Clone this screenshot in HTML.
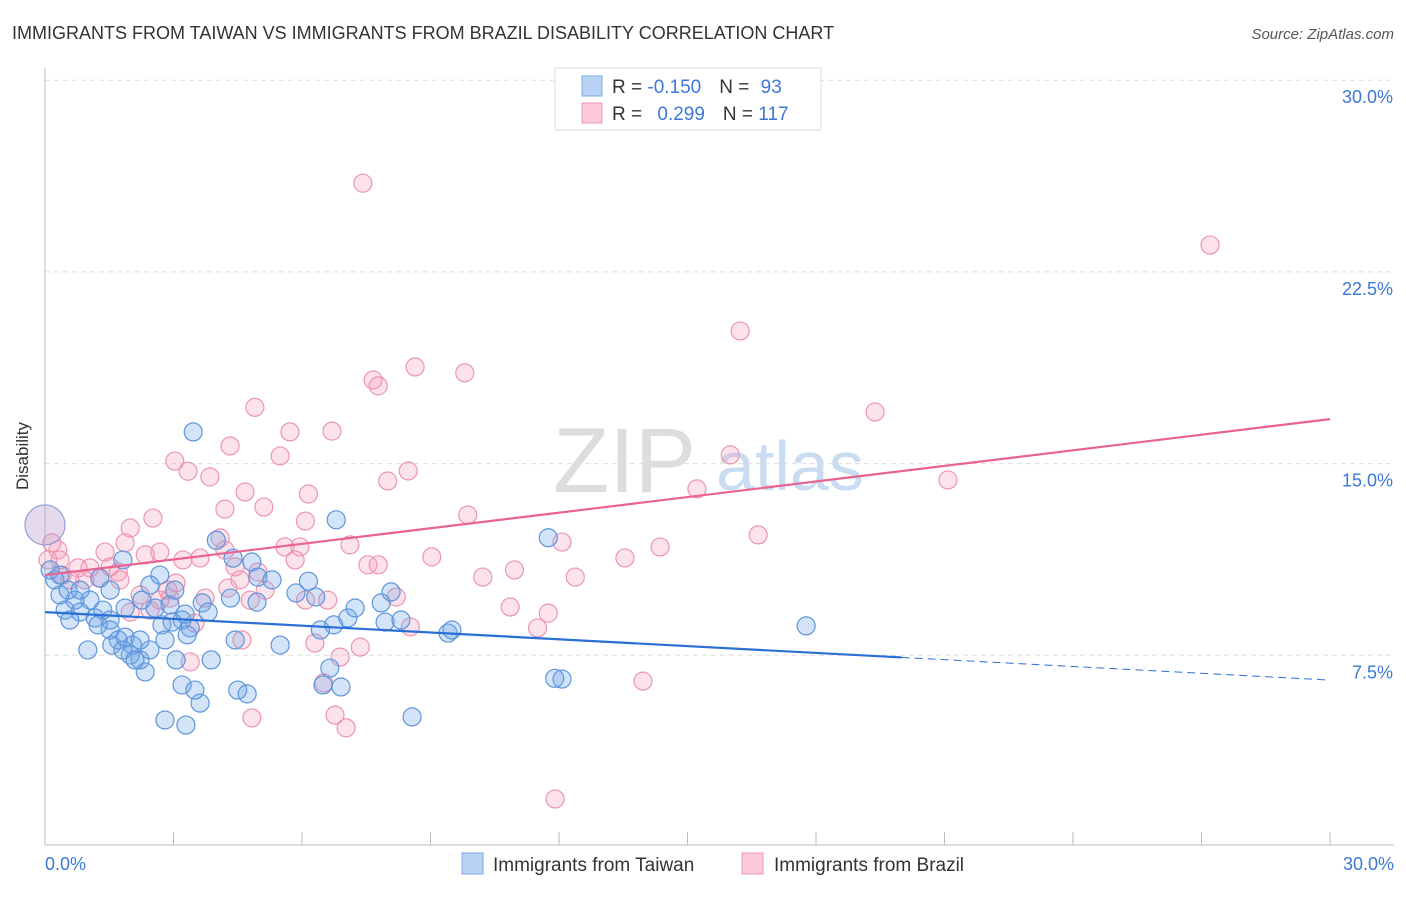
<!DOCTYPE html>
<html><head><meta charset="utf-8"><style>
body{margin:0;background:#fff;font-family:"Liberation Sans",sans-serif;}
svg text{font-family:"Liberation Sans",sans-serif;}
</style></head><body>
<svg id="c" width="1406" height="892">
<text x="12" y="39" font-size="18" fill="#333">IMMIGRANTS FROM TAIWAN VS IMMIGRANTS FROM BRAZIL DISABILITY CORRELATION CHART</text>
<text x="1394" y="39" font-size="15" fill="#555" text-anchor="end" font-style="italic">Source: ZipAtlas.com</text>
<g>
<text x="553" y="492" font-size="92" fill="#ddd" font-family="Liberation Serif">ZIP</text>
<text x="716" y="490" font-size="70" fill="#c9dcf2">atlas</text>
</g>
<g id="grid"></g><g id="axes"></g><g id="pts"></g><g id="lines"></g>
<text x="28" y="456" font-size="17" fill="#333" transform="rotate(-90 28 456)" text-anchor="middle">Disability</text>
<text x="45" y="870" font-size="18" fill="#3b78d8">0.0%</text>
<text x="1394" y="870" font-size="18" fill="#3b78d8" text-anchor="end">30.0%</text>
<g>
<rect x="555" y="68" width="266" height="62" fill="#fff" stroke="#ddd"/>
<rect x="582" y="76" width="20" height="20" fill="#b9d3f5" stroke="#7aa7e4"/>
<rect x="582" y="103" width="20" height="20" fill="#fbc9d8" stroke="#ef9ab6"/>
<text x="612" y="93" font-size="19" fill="#333">R = <tspan fill="#3b78d8">-0.150</tspan><tspan dx="18">N = </tspan><tspan fill="#3b78d8" dx="6">93</tspan></text>
<text x="612" y="120" font-size="19" fill="#333">R = <tspan fill="#3b78d8" dx="10">0.299</tspan><tspan dx="18">N = </tspan><tspan fill="#3b78d8">117</tspan></text>
</g>
<g>
<rect x="462" y="853" width="21" height="21" fill="#b9d3f5" stroke="#7aa7e4"/>
<text x="493" y="871" font-size="19" fill="#333">Immigrants from Taiwan</text>
<rect x="742" y="853" width="21" height="21" fill="#fbc9d8" stroke="#ef9ab6"/>
<text x="774" y="871" font-size="19" fill="#333">Immigrants from Brazil</text>
</g>
</svg>
<script>
const yTicks=[7.5,15,22.5,30];
const yTickLabels=["7.5%","15.0%","22.5%","30.0%"];
const xTicks=[0,3,6,9,12,15,18,21,24,27,30];
const taiwanX=[3.46,6.8,11.75,17.77,12.07,8.57,2.8,3.29,3.62,3.2,3.5,4.5,4.72,3.88,3.06,2.34,2.22,6.49,6.91,6.65,5.49,4.44,4.0,4.39,4.83,4.97,4.33,4.95,3.67,5.86,6.15,6.32,6.74,7.07,6.43,7.85,8.08,7.94,8.31,9.41,9.5,2.57,2.92,3.2,3.39,2.73,3.03,2.68,2.45,1.82,1.28,1.52,1.05,0.7,0.82,1.17,1.35,1.52,1.87,1.52,1.87,1.71,2.04,1.99,1.0,2.1,0.35,0.47,0.23,0.12,0.54,0.82,1.24,1.56,1.82,2.22,0.35,0.58,2.45,2.8,3.32,2.97,3.81,2.26,7.24,5.3,3.27,11.9];
const taiwanY=[16.24,12.8,12.1,8.65,6.57,5.09,4.97,4.77,5.63,6.34,6.14,6.14,5.99,7.32,7.32,6.85,7.32,6.34,6.26,7.0,7.9,8.1,12.0,11.3,11.15,10.56,9.74,9.58,9.55,9.94,10.4,9.78,8.69,8.96,8.49,9.55,9.98,8.8,8.88,8.37,8.49,9.35,9.47,8.88,8.57,8.69,10.05,10.64,10.25,11.23,10.52,10.05,9.66,9.66,9.19,8.96,9.27,8.88,9.35,8.49,8.21,8.1,7.9,7.51,7.71,7.32,9.86,9.27,10.45,10.84,10.05,10.05,8.69,7.9,7.71,8.1,10.64,8.88,7.71,8.1,8.3,8.8,9.19,9.66,9.35,10.45,9.11,6.6];
const brazilX=[7.42,27.2,16.23,8.64,9.8,7.66,7.78,19.38,4.9,5.72,6.7,4.32,5.49,3.03,3.34,3.85,8.48,8.0,16.0,21.08,15.22,4.67,6.15,5.11,4.2,9.87,2.52,6.08,1.99,4.09,16.65,12.07,14.36,7.12,5.6,5.95,13.54,9.03,3.62,2.68,1.4,1.87,2.34,3.22,4.44,7.54,7.78,10.96,12.38,10.22,5.84,4.97,4.55,3.06,1.52,1.05,0.77,1.71,1.28,0.93,0.58,0.35,0.3,0.16,5.14,4.27,2.22,2.92,3.74,8.2,6.6,10.86,11.75,11.5,8.53,6.3,7.36,6.89,3.5,1.99,2.68,4.6,3.39,13.96,6.51,4.83,6.77,7.03,11.91,2.45,2.87,1.75,0.07,0.4,4.79,6.08,4.2];
const brazilY=[25.97,23.55,20.19,18.78,18.55,18.27,18.04,17.02,17.2,16.24,16.27,15.69,15.3,15.1,14.7,14.48,14.71,14.32,15.34,14.36,14.01,13.89,13.81,13.3,13.22,12.99,12.87,12.75,12.48,12.09,12.21,11.93,11.74,11.82,11.74,11.74,11.31,11.35,11.31,11.54,11.54,11.9,11.43,11.23,10.96,11.04,11.04,10.84,10.56,10.56,11.23,10.76,10.45,10.33,10.96,10.92,10.92,10.76,10.52,10.45,10.45,11.23,11.62,11.9,10.05,10.13,9.86,9.74,9.74,9.78,9.66,9.39,9.15,8.57,8.61,7.98,7.82,7.43,8.76,9.19,9.66,8.1,7.24,6.49,6.42,5.05,5.16,4.66,1.88,9.27,10.05,10.45,11.23,10.64,9.66,9.66,11.62];
const taiwanFit=[9.19,6.53]; // y at x=0, y at x=30
const brazilFit=[10.64,16.74];
const X=v=>45+v*1285/30, Y=v=>847-v*191.7/7.5;
const NS="http://www.w3.org/2000/svg";
function mk(t,a,p){const e=document.createElementNS(NS,t);for(const k in a)e.setAttribute(k,a[k]);document.getElementById(p).appendChild(e);return e;}
yTicks.forEach((t,i)=>{
 const l=mk('line',{x1:45,x2:1394,y1:Y(t),y2:Y(t),stroke:'#ddd','stroke-dasharray':'5,4'},'grid');
 
 
 const tx=mk('text',{x:1393,y:Y(t)+23,'font-size':18,fill:'#3b78d8','text-anchor':'end'},'grid');
 tx.textContent=yTickLabels[i];
 
 
});
const ax=mk('line',{x1:45,x2:45,y1:68,y2:845,stroke:'#bbb'},'axes');


const bx=mk('line',{x1:45,x2:1394,y1:845,y2:845,stroke:'#bbb'},'axes');


xTicks.forEach(t=>{
 const l=mk('line',{x1:X(t),x2:X(t),y1:832,y2:845,stroke:'#bbb'},'axes');
 
 
});
function pts(xs,ys,fill,stroke,name){
 xs.forEach((x,i)=>{
  const c=mk('circle',{cx:X(x),cy:Y(ys[i]),r:9,fill:fill,stroke:stroke,'stroke-width':1.2},'pts');
  
  
 });
}
pts(brazilX,brazilY,'rgba(244,160,188,0.3)','#ec94b2','brazil-point');
pts(taiwanX,taiwanY,'rgba(110,165,232,0.3)','#5d95dc','taiwan-point');
const b1=mk('circle',{cx:X(0),cy:Y(12.6),r:20,fill:'rgba(180,150,200,0.35)',stroke:'#8fa0dc','stroke-width':1.2},'pts');


const tEnd=20;
const ty=x=>taiwanFit[0]+(taiwanFit[1]-taiwanFit[0])*x/30;
const l1=mk('line',{x1:X(0),y1:Y(ty(0)),x2:X(tEnd),y2:Y(ty(tEnd)),stroke:'#2a6fd6','stroke-width':2.2},'lines');


const l2=mk('line',{x1:X(tEnd),y1:Y(ty(tEnd)),x2:X(30),y2:Y(ty(30)),stroke:'#2a6fd6','stroke-width':1,'stroke-dasharray':'8,5'},'lines');


const l3=mk('line',{x1:X(0),y1:Y(brazilFit[0]),x2:X(30),y2:Y(brazilFit[1]),stroke:'#e8638f','stroke-width':2.2},'lines');


</script>
</body></html>
